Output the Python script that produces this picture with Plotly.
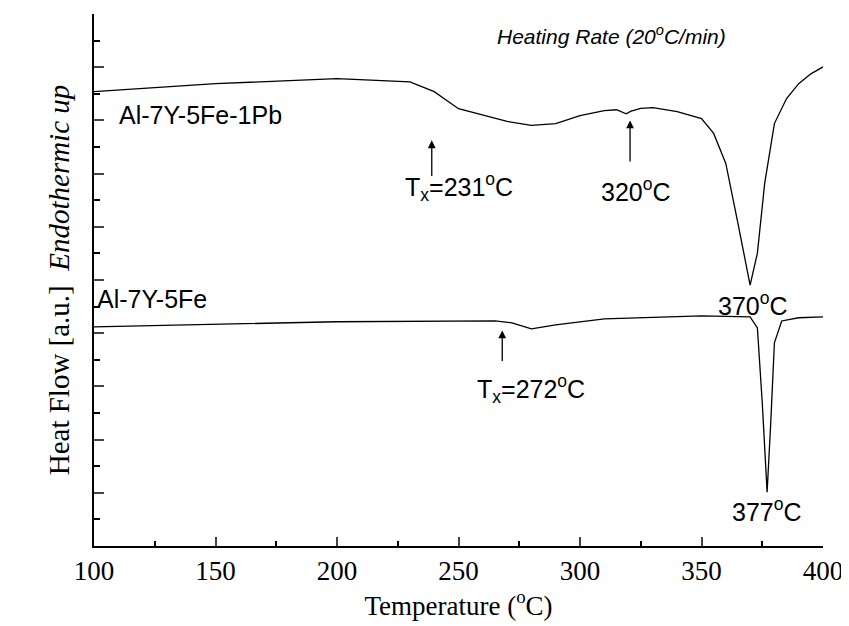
import plotly.graph_objects as go

# DSC traces (temperature in degC, heat flow in a.u.)
temp_pb = [100, 150, 200, 230, 240, 250, 270, 280, 290, 300, 310, 315, 319, 321, 325, 330, 340, 350,
           355, 360, 365, 370, 373, 376, 380, 385, 390, 395, 400]
flow_pb = [17.08, 17.38, 17.57, 17.45, 17.08, 16.44, 15.96, 15.81, 15.88, 16.18, 16.37, 16.40, 16.25,
           16.35, 16.45, 16.48, 16.33, 16.07, 15.51, 14.38, 12.13, 9.81, 11.01, 13.63, 15.88, 16.82,
           17.38, 17.75, 18.01]
temp_fe = [100, 200, 265, 272, 280, 290, 310, 350, 370, 373, 375, 377, 378.5, 380, 383, 390, 400]
flow_fe = [8.24, 8.43, 8.46, 8.39, 8.16, 8.31, 8.54, 8.65, 8.61, 8.2, 5.39, 2.02, 4.64, 7.64, 8.46,
           8.58, 8.61]

SANS = "Liberation Sans"
SERIF = "Liberation Serif"

fig = go.Figure()
fig.add_trace(go.Scatter(x=temp_pb, y=flow_pb, mode="lines", line=dict(color="black", width=1.3)))
fig.add_trace(go.Scatter(x=temp_fe, y=flow_fe, mode="lines", line=dict(color="black", width=1.3)))

# arrows: (x, tail y, head y)
arrows = [(239, 13.85, 15.25), (320.6, 14.4, 16.0), (268, 6.9, 8.1)]
for x, y0, y1 in arrows:
    fig.add_annotation(x=x, y=y1, ax=x, ay=y0, xref="x", yref="y", axref="x", ayref="y",
                       showarrow=True, arrowhead=2, arrowsize=1.2, arrowwidth=1.3,
                       arrowcolor="black", text="")

labels = [
    (144, 16.2, "Al-7Y-5Fe-1Pb"),
    (124, 9.3, "Al-7Y-5Fe"),
    (250, 13.5, "T<sub>x</sub>=231<sup>o</sup>C"),
    (323, 13.4, "320<sup>o</sup>C"),
    (371, 9.1, "370<sup>o</sup>C"),
    (280, 5.9, "T<sub>x</sub>=272<sup>o</sup>C"),
    (377, 1.35, "377<sup>o</sup>C"),
]
for x, y, t in labels:
    fig.add_annotation(x=x, y=y, text=t, showarrow=False, font=dict(family=SANS, size=25, color="black"))

fig.add_annotation(x=313, y=19.2, text="<i>Heating Rate (20<sup>o</sup>C/min)</i>", showarrow=False,
                   font=dict(family=SANS, size=21, color="black"))

fig.update_layout(
    width=849, height=626,
    font=dict(family=SERIF, color="black"),
    margin=dict(l=86, r=34, t=6, b=88),
    plot_bgcolor="white", paper_bgcolor="white",
    showlegend=False,
    xaxis=dict(range=[100, 400], tickvals=[100, 150, 200, 250, 300, 350, 400],
               ticktext=["100", "150", "200", "250", "300", "350", "400"],
               ticks="inside", ticklen=9, tickwidth=1.5, showline=True, linecolor="black", linewidth=2,
               showgrid=False, zeroline=False, tickfont=dict(family=SERIF, size=27, color="black"),
               minor=dict(dtick=25, ticks="inside", ticklen=5, tickcolor="black"),
               title=dict(text="Temperature (<sup>o</sup>C)", font=dict(family=SERIF, size=27, color="black"),
                          standoff=2)),
    yaxis=dict(range=[0, 20], dtick=2, ticks="inside", ticklen=10, tickwidth=1.5, showticklabels=False,
               showline=True, linecolor="black", linewidth=2, showgrid=False, zeroline=False,
               minor=dict(dtick=1, ticks="inside", ticklen=6, tickcolor="black"),
               title=dict(text="Heat Flow [a.u.]  <i>Endothermic up</i>",
                          font=dict(family=SERIF, size=29, color="black"), standoff=14)),
)

fig.write_html("out.html")
